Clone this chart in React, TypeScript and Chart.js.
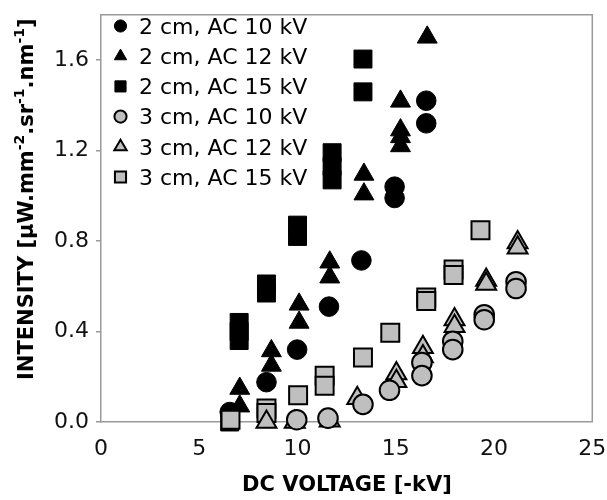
import React, { useEffect, useRef } from "react";
import { Chart, registerables } from "chart.js";

Chart.register(...registerables);

// ---- data ----
const seriesNames = [
  "2 cm, AC 10 kV",
  "2 cm, AC 12 kV",
  "2 cm, AC 15 kV",
  "3 cm, AC 10 kV",
  "3 cm, AC 12 kV",
  "3 cm, AC 15 kV",
];

const xTickValues = [0, 5, 10, 15, 20, 25];
const yTickValues = [0, 0.4, 0.8, 1.2, 1.6];

// 2 cm, AC 10 kV (black circles)
const c2ac10Voltage = [6.55, 8.42, 9.98, 11.6, 13.25, 14.94, 14.94, 16.55, 16.55];
const c2ac10Intensity = [0.044, 0.176, 0.32, 0.51, 0.714, 1.04, 0.99, 1.42, 1.32];

// 2 cm, AC 12 kV (black triangles)
const c2ac12Voltage = [7.06, 7.06, 8.67, 8.67, 10.08, 10.08, 11.64, 11.64, 13.38, 13.38, 15.24, 15.24, 15.24, 15.24, 16.6];
const c2ac12Intensity = [0.148, 0.07, 0.314, 0.25, 0.52, 0.44, 0.706, 0.64, 1.094, 1.007, 1.417, 1.29, 1.26, 1.22, 1.7];

// 2 cm, AC 15 kV (black squares)
const c2ac15Voltage = [6.55, 7.03, 7.03, 7.03, 8.42, 8.42, 10.0, 10.0, 11.76, 11.76, 11.76, 13.33, 13.33];
const c2ac15Intensity = [0.0, 0.44, 0.4, 0.36, 0.61, 0.57, 0.87, 0.82, 1.19, 1.13, 1.07, 1.604, 1.459];

// 3 cm, AC 10 kV (grey circles)
const c3ac10Voltage = [9.96, 11.55, 13.33, 14.68, 16.33, 16.33, 17.9, 17.9, 19.5, 19.5, 21.12, 21.12];
const c3ac10Intensity = [0.01, 0.017, 0.078, 0.14, 0.263, 0.205, 0.357, 0.32, 0.474, 0.452, 0.62, 0.59];

// 3 cm, AC 12 kV (grey triangles)
const c3ac12Voltage = [8.42, 9.86, 11.64, 13.04, 15.03, 15.03, 16.38, 16.38, 17.99, 17.99, 19.6, 19.6, 21.2, 21.2];
const c3ac12Intensity = [0.0, 0.0, 0.005, 0.105, 0.214, 0.18, 0.33, 0.29, 0.453, 0.423, 0.628, 0.61, 0.793, 0.77];

// 3 cm, AC 15 kV (grey squares)
const c3ac15Voltage = [6.59, 8.42, 8.42, 10.03, 11.38, 11.38, 13.33, 14.72, 16.55, 16.55, 17.94, 17.94, 19.31];
const c3ac15Intensity = [0.01, 0.06, 0.04, 0.118, 0.205, 0.16, 0.285, 0.394, 0.55, 0.535, 0.674, 0.65, 0.847];

const FONT = "'DejaVu Sans', Verdana, sans-serif";
const FRAME = "#9a9a9a";
const GREY = "#bfbfbf";

type Style = { shape: "circle" | "triangle" | "rect"; fill: string; border: string; bw: number; r: number };

const styles: Style[] = [
  { shape: "circle", fill: "#000", border: "#000", bw: 1, r: 9.8 },
  { shape: "triangle", fill: "#000", border: "#000", bw: 1, r: 11.5 },
  { shape: "rect", fill: "#000", border: "#000", bw: 1, r: 12.7 },
  { shape: "circle", fill: GREY, border: "#000", bw: 2, r: 9.8 },
  { shape: "triangle", fill: GREY, border: "#000", bw: 2, r: 11.5 },
  { shape: "rect", fill: GREY, border: "#000", bw: 2, r: 12.7 },
];

const voltages = [c2ac10Voltage, c2ac12Voltage, c2ac15Voltage, c3ac10Voltage, c3ac12Voltage, c3ac15Voltage];
const intensities = [c2ac10Intensity, c2ac12Intensity, c2ac15Intensity, c3ac10Intensity, c3ac12Intensity, c3ac15Intensity];

function drawMarker(ctx: CanvasRenderingContext2D, s: Style, x: number, y: number, scale: number) {
  const r = s.r * scale;
  ctx.beginPath();
  if (s.shape === "circle") {
    ctx.arc(x, y, r, 0, Math.PI * 2);
  } else if (s.shape === "triangle") {
    let a = 0;
    ctx.moveTo(x + Math.sin(a) * r, y - Math.cos(a) * r);
    a += (2 * Math.PI) / 3;
    ctx.lineTo(x + Math.sin(a) * r, y - Math.cos(a) * r);
    a += (2 * Math.PI) / 3;
    ctx.lineTo(x + Math.sin(a) * r, y - Math.cos(a) * r);
    ctx.closePath();
  } else {
    const h = r * Math.SQRT1_2;
    ctx.rect(x - h, y - h, 2 * h, 2 * h);
  }
  ctx.fillStyle = s.fill;
  ctx.fill();
  ctx.lineWidth = s.bw;
  ctx.strokeStyle = s.border;
  ctx.stroke();
}

const decorPlugin = {
  id: "decor",
  beforeDatasetsDraw(chart: any) {
    const { ctx, chartArea: a } = chart;
    ctx.save();
    ctx.strokeStyle = FRAME;
    ctx.lineWidth = 1.5;
    ctx.beginPath();
    ctx.moveTo(a.left, a.top);
    ctx.lineTo(a.right, a.top);
    ctx.lineTo(a.right, a.bottom);
    ctx.stroke();
    ctx.restore();
  },
  afterDraw(chart: any) {
    const { ctx } = chart;
    ctx.save();
    // legend
    ctx.font = `22px ${FONT}`;
    ctx.textBaseline = "middle";
    ctx.textAlign = "left";
    seriesNames.forEach((name, i) => {
      const y = 26 + i * 30.2;
      drawMarker(ctx, styles[i], 120.5, y, 0.62);
      ctx.fillStyle = "#000";
      ctx.fillText(name, 139, y + 2);
    });

    // x title
    ctx.font = `bold 21px ${FONT}`;
    ctx.textAlign = "center";
    ctx.textBaseline = "alphabetic";
    ctx.fillStyle = "#000";
    ctx.fillText("DC VOLTAGE [-kV]", 347, 491);

    // y title with superscripts
    const parts: [string, boolean][] = [
      ["INTENSITY [\u03bcW.mm", false],
      ["-2", true],
      [".sr", false],
      ["-1", true],
      [".nm", false],
      ["-1", true],
      ["]", false],
    ];
    ctx.translate(33, 380);
    ctx.rotate(-Math.PI / 2);
    ctx.textAlign = "left";
    let pos = 0;
    for (const [t, sup] of parts) {
      ctx.font = sup ? `bold 14px ${FONT}` : `bold 21px ${FONT}`;
      ctx.fillText(t, pos, sup ? -9 : 0);
      pos += ctx.measureText(t).width;
    }
    ctx.restore();
  },
};

export default function App() {
  const ref = useRef<HTMLCanvasElement | null>(null);

  useEffect(() => {
    document.body.style.margin = "0";
    const canvas = ref.current;
    if (!canvas) return;
    const datasets = seriesNames.map((name, i) => ({
      label: name,
      data: voltages[i].map((x, j) => ({ x, y: intensities[i][j] })),
      pointStyle: styles[i].shape,
      pointRadius: styles[i].r,
      pointHoverRadius: styles[i].r,
      backgroundColor: styles[i].fill,
      borderColor: styles[i].border,
      pointBorderWidth: styles[i].bw,
      borderWidth: styles[i].bw,
      showLine: false,
      clip: false as any,
      order: i < 3 ? 1 : 0,
    }));

    const chart = new Chart(canvas, {
      type: "scatter",
      data: { datasets },
      plugins: [decorPlugin],
      options: {
        animation: false,
        responsive: false,
        maintainAspectRatio: false,
        devicePixelRatio: 1,
        layout: { padding: { left: 0, top: 7, right: 14, bottom: 0 } },
        plugins: { legend: { display: false }, tooltip: { enabled: false } },
        scales: {
          x: {
            type: "linear",
            min: 0,
            max: 25,
            afterBuildTicks: (s: any) => {
              s.ticks = xTickValues.map((v) => ({ value: v }));
            },
            afterFit: (s: any) => {
              s.height = 78;
              s.paddingLeft = 0;
              s.paddingRight = 0;
            },
            grid: { display: false, drawTicks: false },
            border: { display: true, color: FRAME, width: 1.5 },
            ticks: {
              font: { family: FONT, size: 22 },
              color: "#111",
              padding: 14,
              maxRotation: 0,
              autoSkip: false,
            },
          },
          y: {
            type: "linear",
            min: 0,
            max: 1.8,
            afterBuildTicks: (s: any) => {
              s.ticks = yTickValues.map((v) => ({ value: v }));
            },
            afterFit: (s: any) => {
              s.width = 101;
              s.paddingTop = 0;
              s.paddingBottom = 0;
            },
            grid: {
              display: true,
              drawOnChartArea: false,
              drawTicks: true,
              tickLength: 5,
              color: FRAME,
              lineWidth: 1.5,
            },
            border: { display: true, color: FRAME, width: 1.5 },
            ticks: {
              font: { family: FONT, size: 22 },
              color: "#111",
              padding: 7,
              autoSkip: false,
              callback: (v: any) => Number(v).toFixed(1),
            },
          },
        },
      } as any,
    });
    return () => chart.destroy();
  }, []);

  return (
    <div style={{ position: "absolute", left: 0, top: 0, width: 607, height: 500 }}>
      <canvas ref={ref} width={607} height={500} style={{ width: 607, height: 500 }} />
    </div>
  );
}
